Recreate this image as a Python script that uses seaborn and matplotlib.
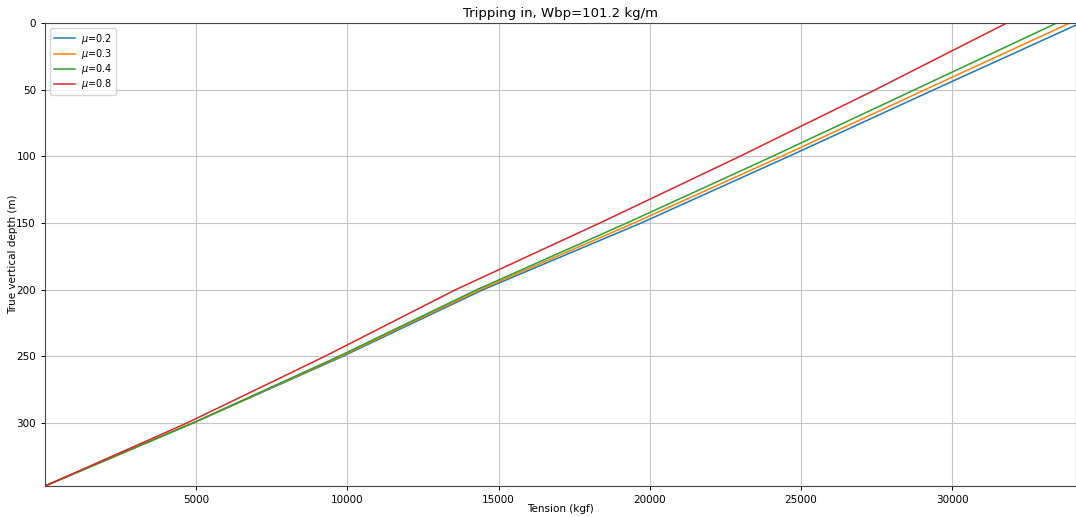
import matplotlib
matplotlib.use("Agg")
import matplotlib.pyplot as plt
import seaborn as sns
import pandas as pd

depth = [347.3, 300, 250, 200, 150, 100, 50, 0]
tension_02 = [0, 4910, 9850, 14494, 19720, 24603, 29404, 34250]
tension_03 = [0, 4900, 9780, 14385, 19480, 24361, 29110, 33895]
tension_04 = [0, 4890, 9720, 14286, 19246, 24064, 28766, 33466]
tension_08 = [0, 4700, 9260, 13585, 18353, 22983, 27467, 31812]
labels = [r"$\mu$=0.2", r"$\mu$=0.3", r"$\mu$=0.4", r"$\mu$=0.8"]
series = [tension_02, tension_03, tension_04, tension_08]
colors = ["#1f77b4", "#ff7f0e", "#2ca02c", "#d62728"]

rows = []
for lab, vals in zip(labels, series):
    for d, t in zip(depth, vals):
        rows.append({"Tension": t, "Depth": d, "case": lab})
df = pd.DataFrame(rows)

fig = plt.figure(figsize=(10.76, 5.17), dpi=100)
ax = fig.add_axes([45/1076, 1-486/517, 1-45/1076, (486-23)/517])
for lab, c in zip(labels, colors):
    sub = df[df["case"] == lab]
    sns.lineplot(data=sub, x="Tension", y="Depth", ax=ax, color=c, label=lab,
                 estimator=None, sort=False, linewidth=1.1)

ax.set_xlim(0, 34100)
ax.set_ylim(347.3, 0)
ax.set_xticks([5000, 10000, 15000, 20000, 25000, 30000])
ax.set_yticks([0, 50, 100, 150, 200, 250, 300])
ax.grid(True, color="#c4c4c4", linewidth=0.8)
ax.set_axisbelow(True)
for s in ax.spines.values():
    s.set_color("#444444")
    s.set_linewidth(0.8)
ax.set_xlabel("Tension (kgf)", fontsize=7.5)
ax.set_ylabel("True vertical depth (m)", fontsize=7.5)
ax.xaxis.set_label_coords(0.5, -0.038)
ax.yaxis.set_label_coords(-0.026, 0.5)
ax.set_title("Tripping in, Wbp=101.2 kg/m", fontsize=9.5, pad=4)
ax.tick_params(labelsize=7.5, length=3, width=0.7)
ax.legend(loc="upper left", fontsize=7, handlelength=2.2, borderpad=0.4,
          labelspacing=0.12, handletextpad=0.6)
fig.savefig("out.png", dpi=100)
